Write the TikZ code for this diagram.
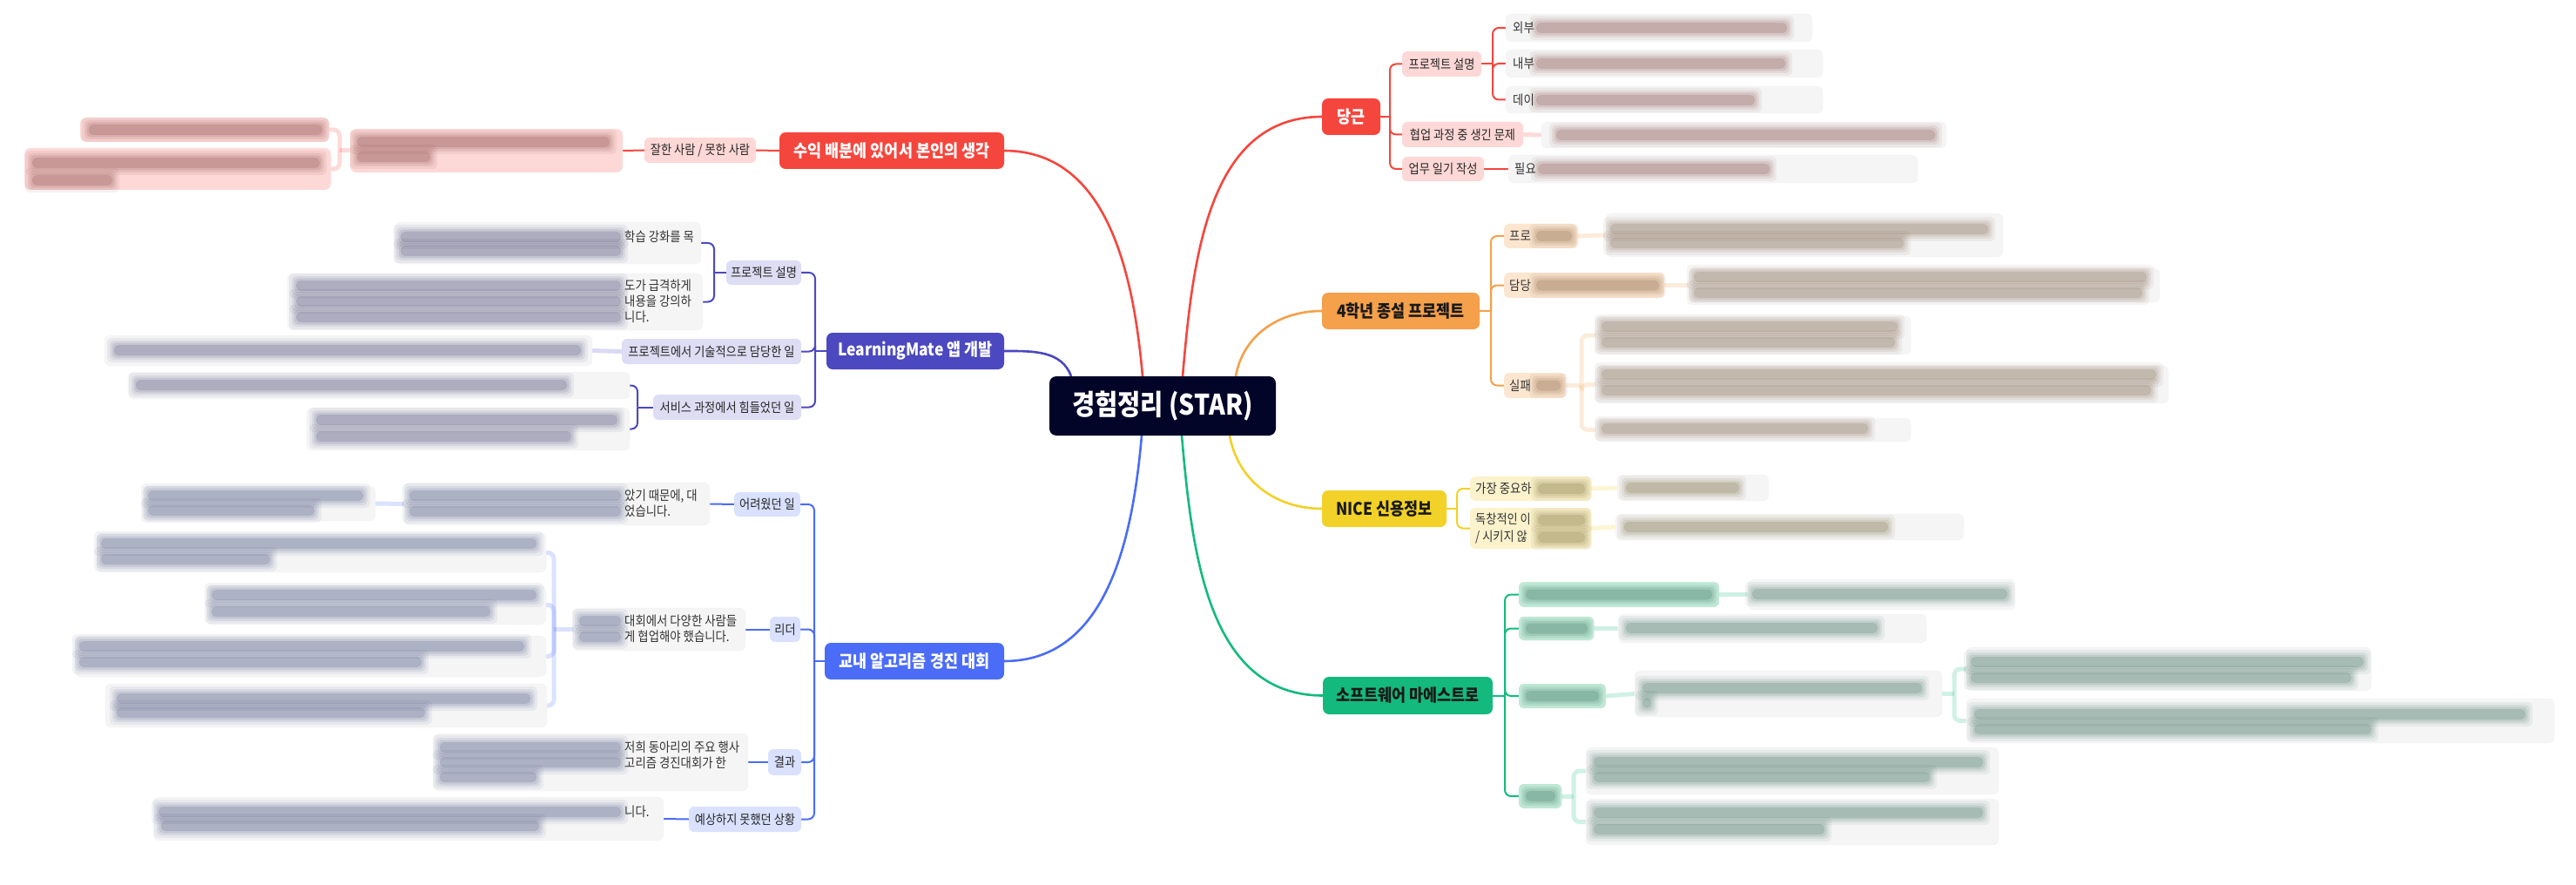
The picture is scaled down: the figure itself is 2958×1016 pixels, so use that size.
\documentclass[tikz,border=0pt]{standalone}
\usepackage{fontspec}
\setmainfont{Noto Sans CJK KR}[FakeStretch=0.88]
\usetikzlibrary{backgrounds}
\definecolor{bbalgang}{HTML}{F5463D}
\definecolor{bunhong}{HTML}{FDD8D6}
\definecolor{juhwang}{HTML}{F5A04A}
\definecolor{juhwangyeon}{HTML}{FDE6D0}
\definecolor{norang}{HTML}{F2D128}
\definecolor{norangyeon}{HTML}{FCF2CC}
\definecolor{chorok}{HTML}{14BA7D}
\definecolor{chorokyeon}{HTML}{CBF1E0}
\definecolor{namsaek}{HTML}{4B48C0}
\definecolor{namsaekyeon}{HTML}{DDDDF4}
\definecolor{parang}{HTML}{4A6CF7}
\definecolor{parangyeon}{HTML}{D9E1FE}
\definecolor{kkaman}{HTML}{020428}
\definecolor{hoesaek}{HTML}{F5F5F6}
\colorlet{bb-h}{bbalgang!40!black}
\colorlet{jh-h}{juhwang!40!black}
\colorlet{nr-h}{norang!35!black}
\colorlet{ch-h}{chorok!40!black}
\colorlet{ns-h}{namsaek!45!black}
\colorlet{pr-h}{parang!40!black}
\tikzset{
  jungsim/.style={fill=kkaman,text=white,rounded corners=8pt,font=\fontsize{32.4}{36}\selectfont\bfseries},
  juje/.style={fill=#1,text=white,rounded corners=7pt,font=\fontsize{19.8}{22}\selectfont\bfseries},
  gaji/.style={fill=#1,text=black!85,rounded corners=6pt,font=\fontsize{15}{19}\selectfont},
  naeyong/.style={fill=hoesaek,draw=black!5,rounded corners=7pt},
  geul/.style={inner sep=0pt,text=black!80,align=left,font=\fontsize{15.2}{18}\selectfont},
  seon/.style={draw=#1,line width=2.6pt},
  julgi/.style={draw=#1,line width=2pt,rounded corners=7pt},
  heuryeo/.style={draw=#1,line width=5pt,draw opacity=0.2,rounded corners=7pt},
}
% [style]{name}{x1}{y1}{x2}{y2}{text}
\newcommand\sangja[7][naeyong]{%
  \node[#1,outer sep=0pt,inner sep=0pt,minimum width={#5-#3},minimum height={#6-#4}]
    (#2) at ({(#3+#5)/2},{(#4+#6)/2}) {#7};}
% blurred line: {x1}{x2}{y}{colour}
\newcommand\heurim[4]{%
  \foreach \pp/\qq in {8/0.06,5/0.08,2.5/0.1,0/0.14}
    \fill[#4,fill opacity=\qq,rounded corners=5pt] ({#1-\pp},{#3-6-\pp}) rectangle ({#2+\pp},{#3+6+\pp});}

\begin{document}
\begin{tikzpicture}[x=1pt,y=-1pt]
  \useasboundingbox (0,0) rectangle (2958,1016);
  \sangja[jungsim]{c}{1205}{432}{1465}{500}{경험정리 (STAR)}
  % 주제
  \sangja[juje=bbalgang]{dg}{1518}{113}{1585}{155}{당근}
  \sangja[juje=juhwang,text=black!90]{hn}{1518}{336}{1699}{378}{4학년 종설 프로젝트}
  \sangja[juje=norang,text=black!90]{nc}{1518}{563}{1661}{605}{NICE 신용정보}
  \sangja[juje=chorok,text=black!90]{sm}{1519}{777}{1714}{820}{소프트웨어 마에스트로}
  \sangja[juje=bbalgang]{sy}{895}{152}{1153}{194}{수익 배분에 있어서 본인의 생각}
  \sangja[juje=namsaek]{lm}{949}{382}{1153}{424}{LearningMate 앱 개발}
  \sangja[juje=parang]{al}{947}{738}{1153}{780}{교내 알고리즘 경진 대회}
  % 가지
  \sangja[gaji=bunhong]{dg1}{1610}{59}{1701}{88}{프로젝트 설명}
  \sangja[gaji=bunhong]{dg2}{1610}{140}{1749}{169}{협업 과정 중 생긴 문제}
  \sangja[gaji=bunhong]{dg3}{1610}{180}{1704}{208}{업무 일기 작성}
  \sangja[gaji=juhwangyeon]{hn1}{1727}{257}{1811}{285}{}
  \sangja[gaji=juhwangyeon]{hn2}{1727}{313}{1911}{342}{}
  \sangja[gaji=juhwangyeon]{hn3}{1727}{428}{1798}{457}{}
  \sangja[gaji=norangyeon]{nc1}{1688}{547}{1827}{575}{}
  \sangja[gaji=norangyeon]{nc2}{1688}{583}{1827}{630}{}
  \sangja[gaji=chorokyeon]{sm1}{1744}{668}{1974}{697}{}
  \sangja[gaji=chorokyeon]{sm2}{1744}{708}{1830}{735}{}
  \sangja[gaji=chorokyeon]{sm3}{1744}{785}{1844}{813}{}
  \sangja[gaji=chorokyeon]{sm4}{1744}{900}{1793}{928}{}
  \sangja[gaji=bunhong]{sy1}{740}{158}{868}{187}{잘한 사람 / 못한 사람}
  \sangja[gaji=namsaekyeon]{lm1}{834}{299}{920}{327}{프로젝트 설명}
  \sangja[gaji=namsaekyeon]{lm2}{714}{389}{920}{418}{프로젝트에서 기술적으로 담당한 일}
  \sangja[gaji=namsaekyeon]{lm3}{750}{453}{920}{482}{서비스 과정에서 힘들었던 일}
  \sangja[gaji=parangyeon]{al1}{843}{565}{919}{593}{어려웠던 일}
  \sangja[gaji=parangyeon]{al2}{884}{708}{919}{737}{리더}
  \sangja[gaji=parangyeon]{al3}{882}{860}{920}{890}{결과}
  \sangja[gaji=parangyeon]{al4}{791}{926}{920}{955}{예상하지 못했던 상황}
  % 내용
  \sangja{dg1a}{1729}{16}{2081}{48}{}
  \sangja{dg1b}{1729}{57}{2093}{89}{}
  \sangja{dg1c}{1729}{99}{2093}{130}{}
  \sangja{dg2a}{1770}{140}{2235}{170}{}
  \sangja{dg3a}{1732}{178}{2202}{210}{}
  \sangja{hn1a}{1844}{245}{2300}{295}{}
  \sangja{hn2a}{1939}{308}{2480}{347}{}
  \sangja{hn3a}{1832}{363}{2194}{407}{}
  \sangja{hn3b}{1832}{420}{2490}{463}{}
  \sangja{hn3c}{1832}{480}{2194}{507}{}
  \sangja{nc1a}{1857}{545}{2031}{575}{}
  \sangja{nc2a}{1855}{590}{2255}{620}{}
  \sangja{sm1a}{2007}{665}{2314}{700}{}
  \sangja{sm2a}{1858}{705}{2212}{738}{}
  \sangja{sm3a}{1877}{770}{2230}{823}{}
  \sangja{sm3b}{2258}{743}{2723}{793}{}
  \sangja{sm3c}{2258}{802}{2933}{853}{}
  \sangja{sm4a}{1821}{858}{2295}{912}{}
  \sangja{sm4b}{1821}{917}{2295}{970}{}
  \sangja[naeyong,fill=bunhong]{sy1a}{402}{148}{715}{198}{}
  \sangja[naeyong,fill=bunhong]{sy1b}{92}{135}{378}{163}{}
  \sangja[naeyong,fill=bunhong]{sy1c}{28}{170}{380}{218}{}
  \sangja{lm1a}{453}{255}{805}{303}{}
  \sangja{lm1b}{330}{314}{807}{379}{}
  \sangja{lm2a}{120}{385}{680}{420}{}
  \sangja{lm3a}{147}{427}{723}{458}{}
  \sangja{lm3b}{352}{468}{723}{517}{}
  \sangja{al1a}{464}{554}{815}{603}{}
  \sangja{al1b}{164}{558}{431}{598}{}
  \sangja{al2a}{658}{698}{856}{747}{}
  \sangja{al2b}{111}{612}{627}{657}{}
  \sangja{al2c}{237}{672}{627}{717}{}
  \sangja{al2d}{86}{730}{627}{777}{}
  \sangja{al2e}{121}{785}{628}{835}{}
  \sangja{al3a}{498}{842}{859}{908}{}
  \sangja{al4a}{176}{915}{762}{965}{}
  % 선
  \coordinate (c-dg) at ([xshift=23pt]c.north);
  \coordinate (c-sy) at ([xshift=-23pt]c.north);
  \coordinate (c-lm) at ([xshift=-105pt]c.north);
  \coordinate (c-hn) at ([xshift=84pt]c.north);
  \coordinate (c-nc) at ([xshift=77pt]c.south);
  \coordinate (c-sm) at ([xshift=22pt]c.south);
  \coordinate (c-al) at ([xshift=-24pt]c.south);
  \begin{scope}[on background layer]
    \draw[seon=bbalgang] (c-dg) to[out=85,in=180] (dg.west);
    \draw[seon=bbalgang] (c-sy) to[out=95,in=0] (sy.east);
    \draw[seon=namsaek] (c-lm) to[out=110,in=0] (lm.east);
    \draw[seon=parang] (c-al) to[out=-95,in=0] (al.east);
    \draw[seon=juhwang] (c-hn) to[out=80,in=180] (hn.west);
    \draw[seon=norang] (c-nc) to[out=-80,in=180] (nc.west);
    \draw[seon=chorok] (c-sm) to[out=-85,in=180] (sm.west);
    \draw[julgi=bbalgang] (dg.east) -- ++(11,0) coordinate (dg-j);
    \foreach \k in {dg1,dg2,dg3} \draw[julgi=bbalgang] (dg-j) |- (\k.west);
    \draw[julgi=bbalgang] (dg1.east) -- ++(13,0) coordinate (dg1-j);
    \foreach \k in {dg1a,dg1b,dg1c} \draw[julgi=bbalgang] (dg1-j) |- (\k.west);
    \draw[heuryeo=bbalgang] (dg2.east) -- (dg2a.west);
    \draw[julgi=bbalgang] (dg3.east) -- (dg3a.west);
    \draw[julgi=juhwang] (hn.east) -- ++(13,0) coordinate (hn-j);
    \foreach \k in {hn1,hn2,hn3} \draw[julgi=juhwang] (hn-j) |- (\k.west);
    \draw[heuryeo=juhwang] (hn1.east) -- (hn1a.west);
    \draw[heuryeo=juhwang] (hn2.east) -- (hn2a.west);
    \draw[heuryeo=juhwang] (hn3.east) -- ++(18,0) coordinate (hn3-j);
    \foreach \k in {hn3a,hn3b,hn3c} \draw[heuryeo=juhwang] (hn3-j) |- (\k.west);
    \draw[julgi=norang] (nc.east) -- ++(12,0) coordinate (nc-j);
    \foreach \k in {nc1,nc2} \draw[julgi=norang] (nc-j) |- (\k.west);
    \draw[heuryeo=norang] (nc1.east) -- (nc1a.west);
    \draw[heuryeo=norang] (nc2.east) -- (nc2a.west);
    \draw[julgi=chorok] (sm.east) -- ++(14,0) coordinate (sm-j);
    \foreach \k in {sm1,sm2,sm3,sm4} \draw[julgi=chorok] (sm-j) |- (\k.west);
    \draw[heuryeo=chorok] (sm1.east) -- (sm1a.west);
    \draw[heuryeo=chorok] (sm2.east) -- (sm2a.west);
    \draw[heuryeo=chorok] (sm3.east) -- (sm3a.west);
    \draw[heuryeo=chorok] (sm3a.east) -- ++(14,0) coordinate (sm3a-j);
    \foreach \k in {sm3b,sm3c} \draw[heuryeo=chorok] (sm3a-j) |- (\k.west);
    \draw[heuryeo=chorok] (sm4.east) -- ++(14,0) coordinate (sm4-j);
    \foreach \k in {sm4a,sm4b} \draw[heuryeo=chorok] (sm4-j) |- (\k.west);
    \draw[julgi=bbalgang] (sy.west) -- (sy1.east);
    \draw[julgi=bbalgang] (sy1.west) -- (sy1a.east);
    \draw[heuryeo=bbalgang] (sy1a.west) -- ++(-12,0) coordinate (sy1a-j);
    \foreach \k in {sy1b,sy1c} \draw[heuryeo=bbalgang] (sy1a-j) |- (\k.east);
    \draw[julgi=namsaek] (lm.west) -- ++(-13,0) coordinate (lm-j);
    \foreach \k in {lm1,lm2,lm3} \draw[julgi=namsaek] (lm-j) |- (\k.east);
    \draw[julgi=namsaek] (lm1.west) -- ++(-14,0) coordinate (lm1-j);
    \foreach \k in {lm1a,lm1b} \draw[julgi=namsaek] (lm1-j) |- (\k.east);
    \draw[heuryeo=namsaek] (lm2.west) -- (lm2a.east);
    \draw[julgi=namsaek] (lm3.west) -- ++(-18,0) coordinate (lm3-j);
    \foreach \k in {lm3a,lm3b} \draw[julgi=namsaek] (lm3-j) |- (\k.east);
    \draw[julgi=parang] (al.west) -- ++(-12,0) coordinate (al-j);
    \foreach \k in {al1,al2,al3,al4} \draw[julgi=parang] (al-j) |- (\k.east);
    \draw[julgi=parang] (al1.west) -- (al1a.east);
    \draw[heuryeo=parang] (al1a.west) -- (al1b.east);
    \draw[julgi=parang] (al2.west) -- (al2a.east);
    \draw[heuryeo=parang] (al2a.west) -- ++(-22,0) coordinate (al2a-j);
    \foreach \k in {al2b,al2c,al2d,al2e} \draw[heuryeo=parang] (al2a-j) |- (\k.east);
    \draw[julgi=parang] (al3.west) -- (al3a.east);
    \draw[julgi=parang] (al4.west) -- (al4a.east);
  \end{scope}
  % 읽히는 글
  \node[geul,anchor=west] (dg1a-g) at (1737,32) {외부};
  \node[geul,anchor=west] (dg1b-g) at (1737,73) {내부};
  \node[geul,anchor=west] (dg1c-g) at (1737,115) {데이};
  \node[geul,anchor=west] (dg3a-g) at (1739,194) {필요};
  \node[geul,anchor=west] (hn1-g) at (1733,271) {프로};
  \node[geul,anchor=west] (hn2-g) at (1733,327.5) {담당};
  \node[geul,anchor=west] (hn3-g) at (1733,442.5) {실패};
  \node[geul,anchor=west] (nc1-g) at (1694,561) {가장 중요하};
  \node[geul,anchor=west,font=\fontsize{15}{20}\selectfont] (nc2-g) at (1694,607) {독창적인 이\\/ 시키지 않};
  \node[geul,anchor=west] (lm1a-g) at (717,272) {학습 강화를 목};
  \node[geul,anchor=west] (lm1b-g) at (717,346) {도가 급격하게\\내용을 강의하\\니다.};
  \node[geul,anchor=west] (al1a-g) at (717,578) {았기 때문에, 대\\었습니다.};
  \node[geul,anchor=west] (al2a-g) at (717,722) {대회에서 다양한 사람들\\게 협업해야 했습니다.};
  \node[geul,anchor=west] (al3a-g) at (717,866.5) {저희 동아리의 주요 행사\\고리즘 경진대회가 한};
  \node[geul,anchor=west] (al4a-g) at (717,932) {니다.};
  % 흐린 글
  \heurim{1764}{2052}{32}{bb-h}  \heurim{1764}{2050}{73}{bb-h}
  \heurim{1764}{2015}{115}{bb-h} \heurim{1787}{2222}{155}{bb-h}
  \heurim{1766}{2032}{194}{bb-h}
  \heurim{1764}{1805}{271}{jh-h} \heurim{1764}{1905}{327.5}{jh-h}
  \heurim{1764}{1792}{442.5}{jh-h}
  \heurim{1849}{2283}{263}{jh-h} \heurim{1849}{2186}{279}{jh-h}
  \heurim{1945}{2465}{318}{jh-h} \heurim{1945}{2460}{336}{jh-h}
  \heurim{1839}{2179}{375}{jh-h} \heurim{1839}{2176}{393}{jh-h}
  \heurim{1839}{2476}{430}{jh-h} \heurim{1839}{2470}{448}{jh-h}
  \heurim{1839}{2145}{492}{jh-h}
  \heurim{1766}{1820}{561}{nr-h} \heurim{1766}{1820}{597}{nr-h}
  \heurim{1766}{1820}{617}{nr-h}
  \heurim{1867}{1997}{560}{nr-h} \heurim{1865}{2168}{605}{nr-h}
  \heurim{1752}{1966}{682.5}{ch-h} \heurim{1752}{1823}{721.5}{ch-h}
  \heurim{1752}{1836}{799}{ch-h}   \heurim{1752}{1786}{914}{ch-h}
  \heurim{2012}{2305}{682}{ch-h} \heurim{1867}{2156}{721}{ch-h}
  \heurim{1886}{2207}{790}{ch-h} \heurim{1886}{1896}{807}{ch-h}
  \heurim{2263}{2714}{760}{ch-h} \heurim{2263}{2700}{778}{ch-h}
  \heurim{2267}{2900}{820}{ch-h} \heurim{2267}{2723}{837}{ch-h}
  \heurim{1830}{2277}{875}{ch-h} \heurim{1830}{2216}{892}{ch-h}
  \heurim{1830}{2277}{933}{ch-h} \heurim{1830}{2095}{952}{ch-h}
  \heurim{410}{700}{163}{bb-h} \heurim{410}{494}{180}{bb-h}
  \heurim{102}{370}{149}{bb-h}
  \heurim{37}{367}{187}{bb-h}  \heurim{37}{129}{207}{bb-h}
  \heurim{460}{713}{272}{ns-h} \heurim{460}{713}{288}{ns-h}
  \heurim{340}{713}{328}{ns-h} \heurim{340}{713}{346}{ns-h}
  \heurim{340}{713}{364}{ns-h}
  \heurim{131}{667}{402}{ns-h}
  \heurim{156}{651}{442}{ns-h}
  \heurim{363}{709}{482}{ns-h} \heurim{363}{656}{501}{ns-h}
  \heurim{470}{713}{569}{pr-h} \heurim{470}{713}{587}{pr-h}
  \heurim{170}{417}{569}{pr-h} \heurim{170}{361}{586}{pr-h}
  \heurim{665}{713}{713}{pr-h} \heurim{665}{713}{731}{pr-h}
  \heurim{116}{616}{624}{pr-h} \heurim{116}{310}{642}{pr-h}
  \heurim{243}{616}{683}{pr-h} \heurim{243}{563}{702}{pr-h}
  \heurim{91}{602}{742}{pr-h}  \heurim{91}{484}{760}{pr-h}
  \heurim{134}{609}{802}{pr-h} \heurim{134}{488}{818}{pr-h}
  \heurim{505}{713}{858}{pr-h} \heurim{505}{713}{875}{pr-h}
  \heurim{505}{616}{892}{pr-h}
  \heurim{182}{713}{932}{pr-h} \heurim{185}{619}{948}{pr-h}
\end{tikzpicture}
\end{document}
